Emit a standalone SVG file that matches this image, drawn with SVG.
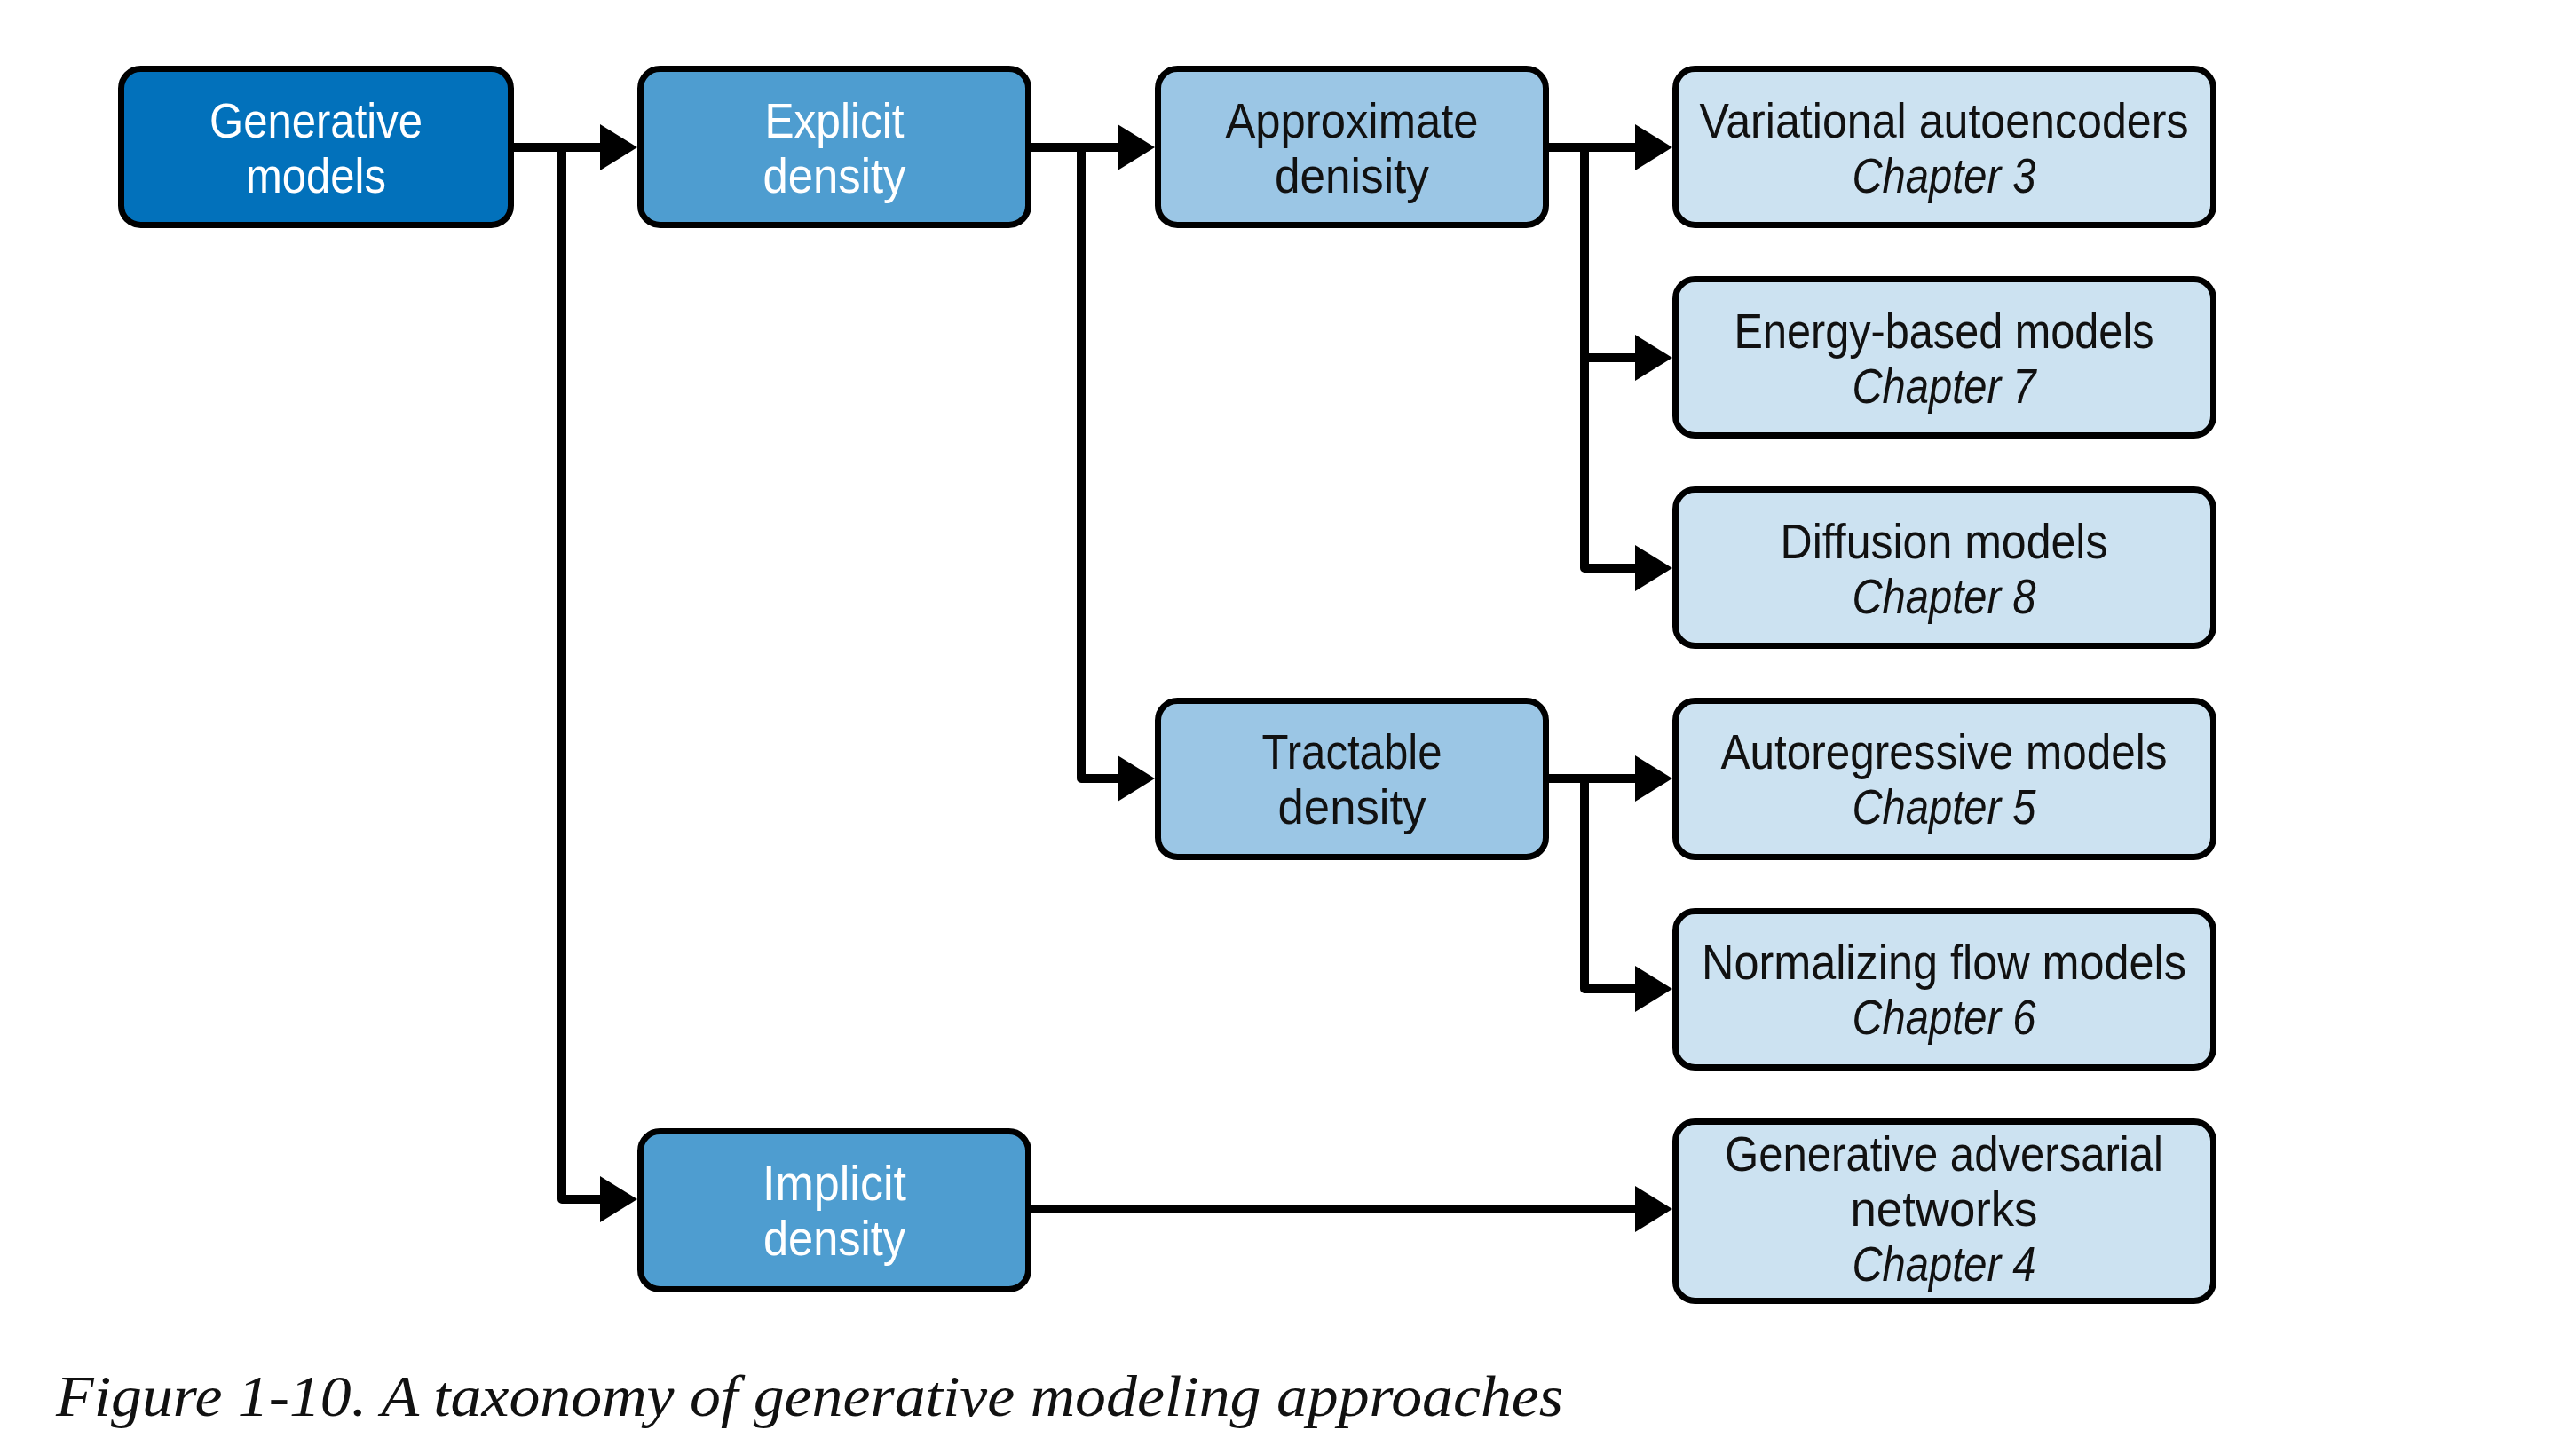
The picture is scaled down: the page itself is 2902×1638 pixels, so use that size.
<svg xmlns="http://www.w3.org/2000/svg" width="2902" height="1638" viewBox="0 0 2902 1638">
<style>
.box{stroke:#000;stroke-width:7}
.l1{fill:#0271BB}
.l2{fill:#4E9DD0}
.l3{fill:#9BC6E5}
.l4{fill:#CCE2F1}
.t{font-family:"Liberation Sans",Arial,sans-serif;font-size:55px;text-anchor:middle}
.w{fill:#fff}
.k{fill:#111}
.i{font-style:italic}
.cap{font-family:"Liberation Serif","Times New Roman",serif;font-style:italic;font-size:66px;fill:#111}
.c{fill:none;stroke:#000;stroke-width:10;stroke-linejoin:round}
</style>
<defs>
<marker id="arr" markerUnits="userSpaceOnUse" markerWidth="44" markerHeight="54" refX="2" refY="26" orient="auto">
<path d="M0,0 L42,26 L0,52 Z" fill="#000"/>
</marker>
</defs>
<rect width="2902" height="1638" fill="#fff"/>
<g id="connectors">
<path class="c" d="M579,166 H678" marker-end="url(#arr)"/>
<path class="c" d="M633,166 V1351 H678" marker-end="url(#arr)"/>
<path class="c" d="M1162,166 H1261" marker-end="url(#arr)"/>
<path class="c" d="M1218,166 V877 H1261" marker-end="url(#arr)"/>
<path class="c" d="M1745,166 H1844" marker-end="url(#arr)"/>
<path class="c" d="M1785,166 V640 H1844" marker-end="url(#arr)"/>
<path class="c" d="M1785,403 H1844" marker-end="url(#arr)"/>
<path class="c" d="M1745,877 H1844" marker-end="url(#arr)"/>
<path class="c" d="M1785,877 V1114 H1844" marker-end="url(#arr)"/>
<path class="c" d="M1162,1362 H1844" marker-end="url(#arr)"/>
</g>
<g id="generative-models">
<rect class="box l1" x="136.5" y="77.5" width="439" height="176" rx="22"/>
<text class="t w"><tspan x="356" y="155" textLength="240" lengthAdjust="spacingAndGlyphs">Generative</tspan><tspan x="356" y="217" textLength="158" lengthAdjust="spacingAndGlyphs">models</tspan></text>
</g>
<g id="explicit-density">
<rect class="box l2" x="721.5" y="77.5" width="437" height="176" rx="22"/>
<text class="t w"><tspan x="940" y="155" textLength="157" lengthAdjust="spacingAndGlyphs">Explicit</tspan><tspan x="940" y="217" textLength="161" lengthAdjust="spacingAndGlyphs">density</tspan></text>
</g>
<g id="approximate-density">
<rect class="box l3" x="1304.5" y="77.5" width="437" height="176" rx="22"/>
<text class="t k"><tspan x="1523" y="155" textLength="285" lengthAdjust="spacingAndGlyphs">Approximate</tspan><tspan x="1523" y="217" textLength="174" lengthAdjust="spacingAndGlyphs">denisity</tspan></text>
</g>
<g id="tractable-density">
<rect class="box l3" x="1304.5" y="789.5" width="437" height="176" rx="22"/>
<text class="t k"><tspan x="1523" y="866" textLength="203" lengthAdjust="spacingAndGlyphs">Tractable</tspan><tspan x="1523" y="928" textLength="167" lengthAdjust="spacingAndGlyphs">density</tspan></text>
</g>
<g id="implicit-density">
<rect class="box l2" x="721.5" y="1274.5" width="437" height="178" rx="22"/>
<text class="t w"><tspan x="940" y="1352" textLength="162" lengthAdjust="spacingAndGlyphs">Implicit</tspan><tspan x="940" y="1414" textLength="160" lengthAdjust="spacingAndGlyphs">density</tspan></text>
</g>
<g id="variational-autoencoders">
<rect class="box l4" x="1887.5" y="77.5" width="606" height="176" rx="22"/>
<text class="t k"><tspan x="2190" y="155" textLength="551" lengthAdjust="spacingAndGlyphs">Variational autoencoders</tspan><tspan class="i" x="2190" y="217" textLength="207" lengthAdjust="spacingAndGlyphs">Chapter 3</tspan></text>
</g>
<g id="energy-based-models">
<rect class="box l4" x="1887.5" y="314.5" width="606" height="176" rx="22"/>
<text class="t k"><tspan x="2190" y="392" textLength="473" lengthAdjust="spacingAndGlyphs">Energy-based models</tspan><tspan class="i" x="2190" y="454" textLength="207" lengthAdjust="spacingAndGlyphs">Chapter 7</tspan></text>
</g>
<g id="diffusion-models">
<rect class="box l4" x="1887.5" y="551.5" width="606" height="176" rx="22"/>
<text class="t k"><tspan x="2190" y="629" textLength="369" lengthAdjust="spacingAndGlyphs">Diffusion models</tspan><tspan class="i" x="2190" y="691" textLength="207" lengthAdjust="spacingAndGlyphs">Chapter 8</tspan></text>
</g>
<g id="autoregressive-models">
<rect class="box l4" x="1887.5" y="789.5" width="606" height="176" rx="22"/>
<text class="t k"><tspan x="2190" y="866" textLength="503" lengthAdjust="spacingAndGlyphs">Autoregressive models</tspan><tspan class="i" x="2190" y="928" textLength="207" lengthAdjust="spacingAndGlyphs">Chapter 5</tspan></text>
</g>
<g id="normalizing-flow-models">
<rect class="box l4" x="1887.5" y="1026.5" width="606" height="176" rx="22"/>
<text class="t k"><tspan x="2190" y="1103" textLength="546" lengthAdjust="spacingAndGlyphs">Normalizing flow models</tspan><tspan class="i" x="2190" y="1165" textLength="207" lengthAdjust="spacingAndGlyphs">Chapter 6</tspan></text>
</g>
<g id="generative-adversarial-networks">
<rect class="box l4" x="1887.5" y="1263.5" width="606" height="202" rx="22"/>
<text class="t k"><tspan x="2190" y="1319" textLength="494" lengthAdjust="spacingAndGlyphs">Generative adversarial</tspan><tspan x="2190" y="1381" textLength="211" lengthAdjust="spacingAndGlyphs">networks</tspan><tspan class="i" x="2190" y="1443" textLength="207" lengthAdjust="spacingAndGlyphs">Chapter 4</tspan></text>
</g>
<text class="cap" x="63" y="1595" textLength="1698" lengthAdjust="spacingAndGlyphs">Figure 1-10. A taxonomy of generative modeling approaches</text>
</svg>
